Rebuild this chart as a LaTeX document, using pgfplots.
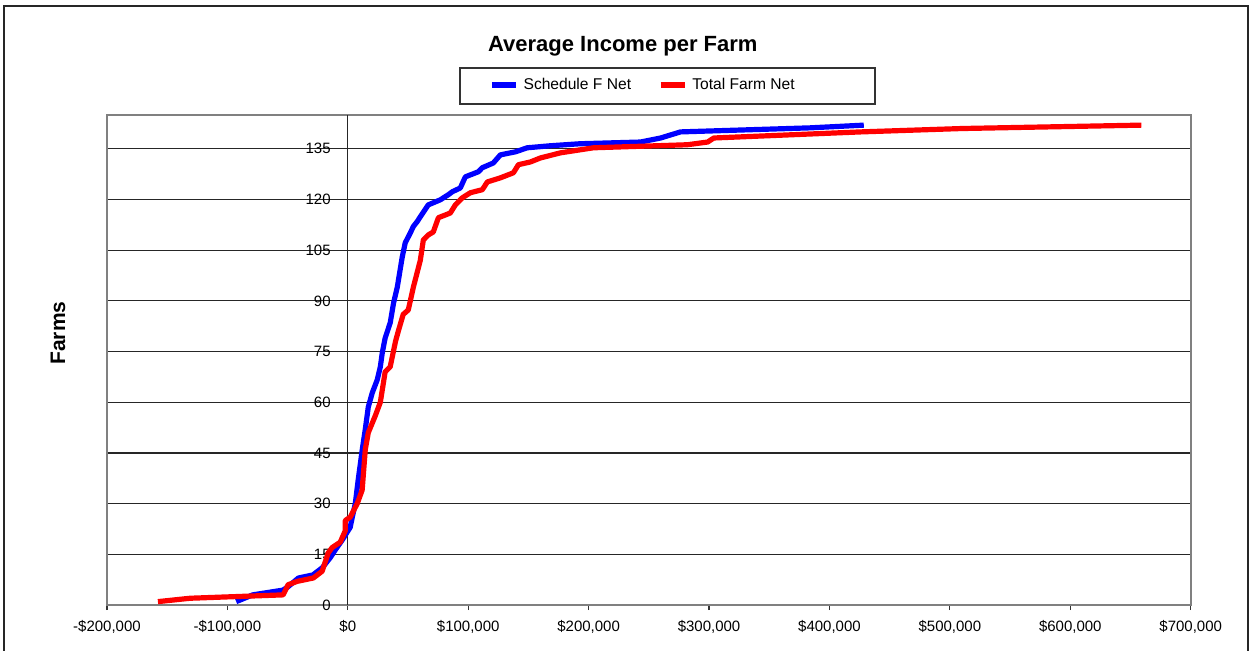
\documentclass[border=0pt]{standalone}
\usepackage{pgfplots}
\pgfplotsset{compat=1.18}
\usepackage{fontspec}
\setmainfont{Liberation Sans}
\begin{document}
\begin{tikzpicture}
\useasboundingbox (0,0) rectangle (626pt,325pt);
\draw[black!85, line width=0.8pt] (2pt,-1pt) -- (2pt,322pt) -- (624pt,322pt) -- (624pt,-1pt);
\begin{axis}[
  at={(53.5pt,22.5pt)}, anchor=south west,
  scale only axis, width=541.85pt, height=245pt,
  xmin=-200000, xmax=700000, ymin=0, ymax=145,
  xtick={-200000,-100000,0,100000,200000,300000,400000,500000,600000,700000},
  xticklabels={{-\$200,000},{-\$100,000},{\$0},{\$100,000},{\$200,000},{\$300,000},{\$400,000},{\$500,000},{\$600,000},{\$700,000}},
  ytick={0,15,...,135},
  tick align=outside, major tick length=2.5pt,
  xtick pos=bottom, ytick pos=left,
  ytick style={draw=none},
  xtick style={black!80, line width=0.6pt},
  ymajorgrids,
  major grid style={black!85, line width=0.6pt},
  extra x ticks={0}, extra x tick labels={},
  extra x tick style={grid=major, major tick length=0pt},
  axis line style={black!50, line width=0.9pt},
  scaled x ticks=false,
  /pgf/number format/assume math mode=true,
  ticklabel style={font=\fontsize{7.5}{9}\selectfont},
  yticklabel style={anchor=east, inner xsep=0pt, xshift=114.5pt},
  xticklabel style={yshift=-1.5pt},
  title={\textbf{Average Income per Farm}},
  title style={at={(axis description cs:0.476,1.116)}, anchor=center, font=\fontsize{11}{13}\selectfont},
  ylabel={\textbf{Farms}},
  ylabel style={at={(axis description cs:-0.0452,0.555)}, anchor=center, font=\fontsize{10.5}{12}\selectfont},
  legend columns=2,
  legend style={at={(axis description cs:0.3525,1.0612)}, anchor=west, draw=none, fill=none,
    inner sep=0pt, font=\fontsize{7.8}{9}\selectfont,
    nodes={inner xsep=2.5pt, inner ysep=1pt},
    /tikz/column 2/.style={column sep=11pt}},
  legend image code/.code={\draw[#1, line width=2.6pt] (0pt,0pt) -- (12pt,0pt);},
  clip=false,
]
\addplot[blue, line width=2.6pt, line join=round] coordinates {
(-92700,1) (-79000,3) (-54000,4.4) (-50000,5.3) (-41000,8) (-29000,8.9)
(-21300,11) (-14600,14) (-10400,16.3) (-4700,19.2) (2000,23) (3700,26)
(6200,30) (8600,37) (12000,46) (14500,52) (17000,58.6) (20300,62.8)
(24400,66.6) (27000,70.5) (28600,74.6) (31000,79) (35200,83.5) (38000,89.4)
(41100,94.1) (45200,103) (47700,107.2) (51900,110.1) (54400,112) (57700,113.5)
(60200,114.9) (66800,118.4) (76800,119.9) (83400,121.4) (86800,122.3)
(93400,123.4) (97600,126.7) (108400,128.2) (111700,129.4) (120800,130.8)
(126700,133.2) (139200,134.1) (149000,135.3) (168200,135.9) (193000,136.5)
(243000,137) (259800,138.2) (276300,140) (384000,141.2) (428500,142)
};
\addlegendentry{Schedule F Net}
\addplot[red, line width=2.6pt, line join=round] coordinates {
(-157700,1) (-131000,2) (-53700,3) (-49600,6) (-42000,7) (-28600,8)
(-21300,10) (-16300,15.4) (-13000,17) (-6300,18.6) (-2100,22) (-2100,25)
(2000,26) (7800,30) (11900,34) (14500,46) (17000,51) (22800,56) (27000,60)
(31000,69) (35200,70.5) (39600,78) (41900,81) (46000,86) (50200,87.3)
(54400,94) (60200,102) (62700,108) (66800,109.5) (71000,110.4) (75200,114.6)
(85100,116) (89300,118.4) (95100,120.5) (101800,122) (111700,122.9)
(115900,125.2) (126700,126.4) (137500,127.9) (141700,130.3) (151600,131.1)
(160000,132.3) (176600,133.8) (193000,134.7) (204000,135.3) (282000,136.2)
(298800,137) (304000,138.2) (426000,140) (510000,141) (659000,142)
};
\addlegendentry{Total Farm Net}
\end{axis}
\draw[black!80, line width=0.6pt] (230pt,291pt) rectangle (437.5pt,273pt);
\end{tikzpicture}
\end{document}
